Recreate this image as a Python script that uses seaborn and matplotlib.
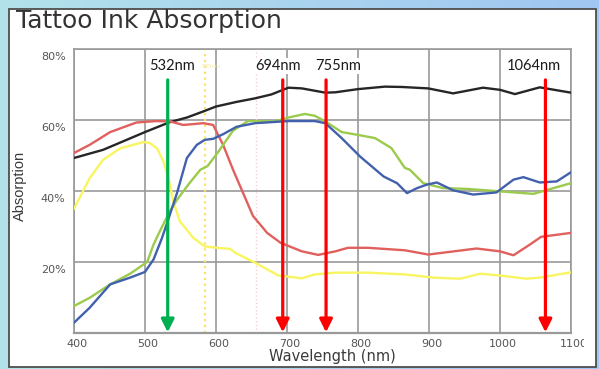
import numpy as np
import pandas as pd
import matplotlib.pyplot as plt
import seaborn as sns
from matplotlib.patches import Rectangle
from matplotlib.colors import LinearSegmentedColormap
from matplotlib.transforms import Bbox, TransformedBbox, ScaledTranslation

# ink absorption curves (wavelength nm -> absorption %)
black_wl = [400, 441, 500, 535, 559, 582, 600, 629, 655, 678, 702, 721, 754, 768, 800, 838, 862,
            899, 934, 976, 1000, 1021, 1056, 1100]
black_abs = [49.3, 51.6, 56.6, 59.4, 60.7, 62.4, 63.8, 65.1, 66.1, 67.2, 69.1, 68.9, 67.7, 67.8, 68.7,
             69.4, 69.3, 68.9, 67.5, 69.1, 68.5, 67.3, 69.2, 67.7]

red_wl = [400, 422, 451, 488, 516, 535, 554, 582, 596, 610, 624, 638, 652, 672, 691, 721, 744, 768,
          786, 814, 866, 899, 967, 1000, 1019, 1042, 1058, 1100]
red_abs = [50.7, 53.0, 56.6, 59.3, 59.7, 59.6, 58.6, 59.1, 58.6, 53.0, 46.0, 39.5, 33.0, 28.2, 25.4,
           23.0, 22.0, 23.0, 24.0, 24.0, 23.3, 22.1, 23.8, 23.0, 21.9, 24.9, 27.1, 28.2]

yellow_wl = [400, 422, 441, 465, 498, 507, 517, 526, 535, 540, 549, 568, 584, 601, 620, 627, 655, 688,
             721, 739, 768, 814, 866, 906, 944, 972, 1000, 1037, 1056, 1100]
yellow_abs = [35.0, 43.6, 48.8, 52.0, 53.8, 53.5, 52.0, 48.3, 41.8, 37.0, 31.5, 26.8, 24.4, 24.0, 23.7,
              22.6, 19.8, 16.2, 15.4, 16.5, 17.0, 17.0, 16.5, 15.6, 15.3, 16.7, 16.2, 15.3, 15.6, 17.1]

green_wl = [400, 422, 451, 479, 503, 512, 521, 535, 545, 561, 578, 588, 602, 624, 645, 683, 702, 725,
            739, 754, 777, 800, 824, 847, 866, 873, 892, 920, 953, 1000, 1047, 1075, 1100]
green_abs = [7.6, 9.9, 13.7, 16.7, 20.0, 24.9, 28.7, 34.3, 37.5, 41.8, 46.0, 47.0, 50.7, 57.0, 59.7,
             59.6, 60.7, 61.7, 61.2, 59.6, 56.6, 55.8, 54.9, 52.1, 46.5, 46.0, 42.2, 40.8, 40.6, 39.9,
             39.2, 40.8, 42.2]

blue_wl = [400, 422, 451, 479, 500, 512, 524, 535, 545, 549, 559, 573, 584, 596, 610, 629, 655, 702,
           739, 754, 777, 803, 836, 855, 869, 883, 897, 911, 934, 962, 995, 1019, 1033, 1056, 1080, 1100]
blue_abs = [2.9, 7.1, 13.7, 15.6, 17.2, 20.7, 26.8, 33.3, 39.4, 42.2, 49.3, 53.0, 54.4, 54.7, 56.0,
            58.1, 59.1, 59.7, 59.7, 59.1, 54.9, 49.7, 44.1, 42.2, 39.4, 40.8, 41.8, 42.4, 40.2, 39.0,
            39.6, 43.2, 43.9, 42.4, 42.7, 45.3]

inks = ['black', 'red', 'yellow', 'green', 'blue']
ink_colors = ['#262626', '#e0605e', '#f8f560', '#9bcb4c', '#4261ad']

lasers = [532, 694, 755, 1064]
laser_labels = ['532nm', '694nm', '755nm', '1064nm']
laser_colors = ['#00b050', '#ff0000', '#ff0000', '#ff0000']

x_ticks = [400, 500, 600, 700, 800, 900, 1000, 1100]
y_ticks = [20, 40, 60, 80]
y_ticklabels = ['20%', '40%', '60%', '80%']

# long table for seaborn
frames = []
for name, wl, ab in zip(inks,
                        [black_wl, red_wl, yellow_wl, green_wl, blue_wl],
                        [black_abs, red_abs, yellow_abs, green_abs, blue_abs]):
    frames.append(pd.DataFrame({'wl': wl, 'abs': ab, 'ink': name}))
df = pd.concat(frames, ignore_index=True)

sns.set_style('white')
plt.rcParams['font.family'] = ['DejaVu Sans']
plt.rcParams['lines.solid_joinstyle'] = 'round'

W, H = 599, 369
fig = plt.figure(figsize=(W / 100, H / 100), dpi=100)

# slide background gradient + white framed panel
bg = fig.add_axes([0, 0, 1, 1], zorder=-5)
cmap = LinearSegmentedColormap.from_list('bg', ['#b3e2ea', '#a0c6f2'])
bg.imshow(np.linspace(0, 1, 256)[None, :], aspect='auto', cmap=cmap, extent=[0, 1, 0, 1])
bg.axis('off')
fig.patches.append(Rectangle((9 / W, 1 - 367 / H), 587 / W, 358 / H, transform=fig.transFigure,
                             facecolor='white', edgecolor='#4d4d4d', lw=1.3, zorder=-4))

ax = fig.add_axes([74 / W, 1 - 333 / H, 497 / W, 284 / H])
ax.set_facecolor('none')

sns.lineplot(data=df, x='wl', y='abs', hue='ink', palette=dict(zip(inks, ink_colors)),
             hue_order=inks, sort=False, estimator=None, lw=1.7, legend=False, ax=ax, zorder=3)

ax.set_xlim(400, 1100)
ax.set_ylim(0, 80)
ax.set_xticks(x_ticks)
ax.set_yticks(y_ticks)
ax.set_yticklabels(y_ticklabels)
ax.grid(True, color='#999999', lw=1.2)
for s in ax.spines.values():
    s.set_color('#999999')
    s.set_linewidth(1.2)
ax.spines['bottom'].set_linewidth(1.6)
ax.tick_params(length=0, labelsize=8, labelcolor='#555555')
ax.tick_params(axis='y', pad=6)
ax.tick_params(axis='x', pad=4)
ax.set_xlabel('')
ax.set_ylabel('')

# nudge tick labels like the original
for lbl in ax.get_yticklabels():
    lbl.set_transform(lbl.get_transform() + ScaledTranslation(0, -0.07, fig.dpi_scale_trans))
for lbl in ax.get_xticklabels():
    lbl.set_transform(lbl.get_transform() + ScaledTranslation(0.03, 0, fig.dpi_scale_trans))
last = ax.get_xticklabels()[-1]
last.set_clip_box(TransformedBbox(Bbox([[0, 0], [584 / W, 1]]), fig.transFigure))
last.set_clip_on(True)

# faint dotted markers
ax.axvline(584, color='#ffe066', ls=':', lw=1.6, zorder=2)
ax.axvline(656, color='#f6d0d0', ls=':', lw=1.0, zorder=2)
ax.text(593, 75, '585nm', color='#f3ec9a', fontsize=4, ha='center', va='center')

# laser arrows
label_shift = [6, -6, 17, -16]
for wl, txt, col, dx in zip(lasers, laser_labels, laser_colors, label_shift):
    ax.annotate('', xy=(wl, 0.2), xytext=(wl, 71.3),
                arrowprops=dict(arrowstyle='-|>,head_length=0.7,head_width=0.35', color=col,
                                lw=2.3, shrinkA=0, shrinkB=0, mutation_scale=11), zorder=5)
    ax.text(wl + dx, 75.2, txt, ha='center', va='center', fontsize=10.5, color='#1a1a1a',
            family=['Lato', 'DejaVu Sans'], zorder=6,
            bbox=dict(facecolor='white', edgecolor='none', pad=1))

fig.text(16 / W, 1 - 28 / H, 'Tattoo Ink Absorption', fontsize=18, color='#333333',
         ha='left', va='baseline')
fig.text(332 / W, 1 - 356 / H, 'Wavelength (nm)', fontsize=10.5, color='#3a3a3a',
         ha='center', va='center')
fig.text(20 / W, 1 - 186 / H, 'Absorption', fontsize=10.5, color='#3a3a3a', rotation=90,
         ha='center', va='center', family=['Liberation Sans', 'DejaVu Sans'])

fig.savefig('out.png', dpi=100)
